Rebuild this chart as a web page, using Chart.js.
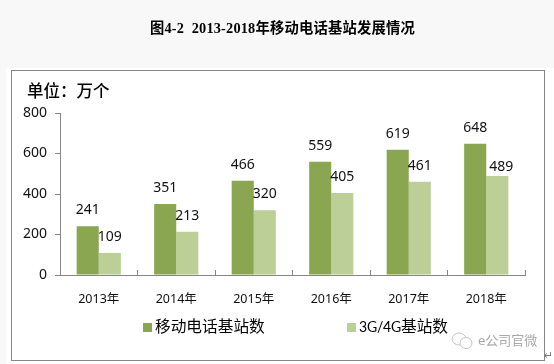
<!DOCTYPE html>
<html lang="zh">
<head>
<meta charset="utf-8">
<title>图4-2</title>
<script src="https://cdn.jsdelivr.net/npm/chart.js@4"></script>
<style>
  @font-face { font-family: "LegendLatin"; src: local("Lato"), local("Lato Regular"); size-adjust: 88%; unicode-range: U+0020-007E; }
  html, body { margin: 0; width: 554px; height: 364px; overflow: hidden; background: #f8f8f8; }
  body { font-family: "Noto Sans", "Noto Sans CJK SC", sans-serif; color: #000; }
  .abs { position: absolute; white-space: nowrap; }
  #sheet { position: absolute; left: 6px; top: 68px; right: 0; bottom: 0; background: #fff; }
  #frame { position: absolute; left: 11px; top: 70px; width: 532px; height: 289px; border: 1.5px solid #868686; background: #fff; }
  #myChart { position: absolute; left: 0; top: 0; }
  #heading { left: 150px; top: 18px; white-space: pre; letter-spacing: 0.2px; font: bold 14.3px/20px "Liberation Serif", "Noto Sans CJK SC", serif; }
  #unit { left: 27px; top: 78px; font: 500 16.5px/24px "Noto Sans CJK SC", sans-serif; }
  #legend { left: 0; top: 316px; width: 554px; height: 22px; }
  #legend span { position: absolute; top: 0; font: 15.7px/22px "LegendLatin", "Noto Sans CJK SC", sans-serif; }
  #legend i { position: absolute; top: 7px; width: 9px; height: 9px; }
  #mark { left: 478px; top: 331px; font: 13px/18px "Noto Sans", "Noto Sans CJK SC", sans-serif; color: #a9a9a9; }
  #icon { position: absolute; left: 450px; top: 332px; }
  #ret { left: 544px; top: 349px; font: 11px/14px "DejaVu Sans", sans-serif; color: #777; }
</style>
</head>
<body>
<div id="sheet"></div>
<div id="frame"></div>
<canvas id="myChart" width="554" height="364"></canvas>
<div class="abs" id="heading"></div>
<div class="abs" id="unit"></div>
<div class="abs" id="legend"></div>
<svg id="icon" width="24" height="18" fill="none" stroke="#c4c4c4" stroke-width="1">
  <ellipse cx="9" cy="7" rx="7" ry="6"/>
  <ellipse cx="16" cy="11" rx="6" ry="5.5" fill="#fff"/>
</svg>
<div class="abs" id="mark">e公司官微</div>
<div class="abs" id="ret">↵</div>
<script>
const heading = "图4-2  2013-2018年移动电话基站发展情况";
const unitText = "单位\uFF1A万个";
const categories = ["2013年", "2014年", "2015年", "2016年", "2017年", "2018年"];
const mobileName = "移动电话基站数";
const g34Name = "3G/4G基站数";
const mobileValues = [241, 351, 466, 559, 619, 648];
const g34Values = [109, 213, 320, 405, 461, 489];
const yTicks = [0, 200, 400, 600, 800];

const darkGreen = "#8aa650";
const lightGreen = "#bbcf97";
const axisGrey = "#868686";
const numFont = '"Noto Sans", "Noto Sans CJK SC", sans-serif';

document.getElementById("heading").textContent = heading;
document.getElementById("unit").textContent = unitText;

// labels above the bars; the 489 one sits lower and to the right in the original
const barLabels = {
  id: "barLabels",
  afterDatasetsDraw(chart) {
    const ctx = chart.ctx;
    ctx.save();
    ctx.font = "14px " + numFont;
    ctx.fillStyle = "#111";
    ctx.textAlign = "center";
    ctx.textBaseline = "middle";
    chart.data.datasets.forEach((ds, d) => {
      chart.getDatasetMeta(d).data.forEach((bar, i) => {
        const odd = d === 1 && i === 5;
        ctx.fillText(ds.data[i], bar.x + (odd ? 4 : 0), bar.y - (odd ? 9 : 16));
      });
    });
    ctx.restore();
  }
};

const chart = new Chart(document.getElementById("myChart").getContext("2d"), {
  type: "bar",
  data: {
    labels: categories,
    datasets: [
      { label: mobileName, data: mobileValues, backgroundColor: darkGreen },
      { label: g34Name, data: g34Values, backgroundColor: lightGreen }
    ]
  },
  options: {
    responsive: false,
    animation: false,
    layout: { padding: { top: 113, right: 29, bottom: 0, left: 0 } },
    categoryPercentage: 0.57,
    barPercentage: 1,
    plugins: { legend: { display: false }, title: { display: false }, tooltip: { enabled: false } },
    scales: {
      x: {
        grid: { drawOnChartArea: false, color: axisGrey, tickLength: -5 },
        border: { color: axisGrey },
        ticks: { color: "#111", font: { family: numFont, size: 12.5 }, padding: 22, maxRotation: 0 },
        afterFit(scale) { scale.height = 89; }
      },
      y: {
        min: 0,
        max: 800,
        afterBuildTicks(scale) { scale.ticks = yTicks.map(v => ({ value: v })); },
        grid: { drawOnChartArea: false, color: axisGrey, tickLength: 5 },
        border: { color: axisGrey },
        ticks: { color: "#111", font: { family: numFont, size: 14 }, padding: 8 },
        afterFit(scale) { scale.width = 60; }
      }
    }
  },
  plugins: [barLabels]
});

// legend items are far apart in the original, so it is built here from the datasets
const legendBox = document.getElementById("legend");
const legendX = [143, 347];
chart.data.datasets.forEach((ds, i) => {
  const box = document.createElement("i");
  box.style.left = legendX[i] + "px";
  box.style.background = ds.backgroundColor;
  const txt = document.createElement("span");
  txt.style.left = (legendX[i] + 12) + "px";
  txt.textContent = ds.label;
  legendBox.append(box, txt);
});
</script>
</body>
</html>
